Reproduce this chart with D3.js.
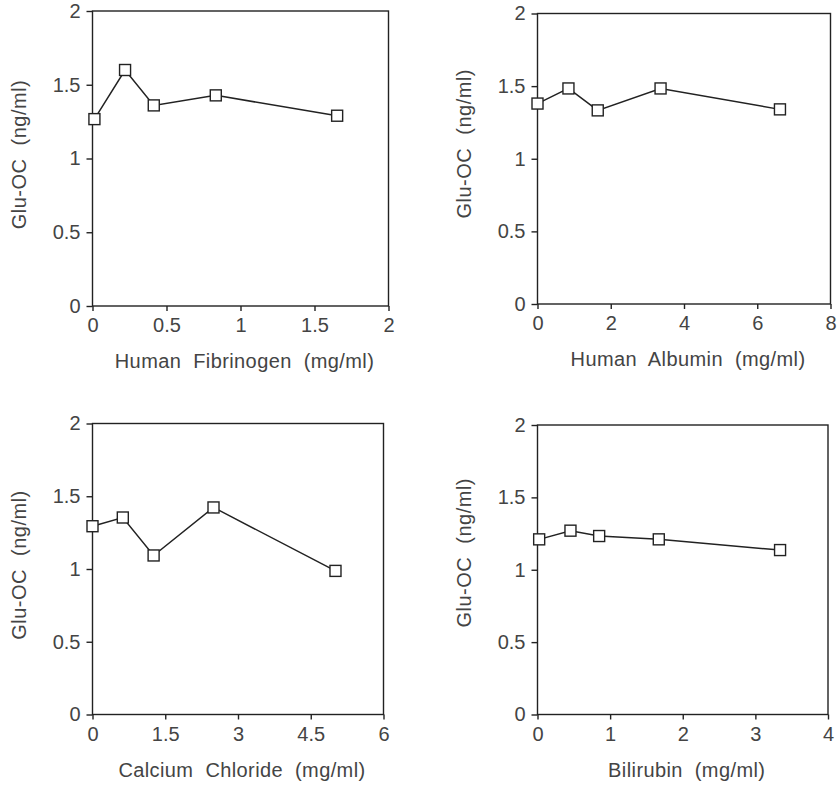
<!DOCTYPE html>
<html><head><meta charset="utf-8">
<script src="https://cdn.jsdelivr.net/npm/d3@7"></script>
<style>
body{margin:0;background:#fff;}
text{font-family:"Liberation Sans",Arial,sans-serif;fill:#444;}
</style></head>
<body><svg id="c" width="837" height="786"></svg>
<script>
const yTickLabels = ["0","0.5","1","1.5","2"];
const yTicks = [0,0.5,1,1.5,2];
const yTitle = "Glu-OC (ng/ml)";

const fibrinogenX = [0.013,0.22,0.414,0.833,1.653];
const fibrinogenY = [1.267,1.60,1.36,1.428,1.29];
const fibrinogenTicks = [0,0.5,1,1.5,2];
const fibrinogenTickLabels = ["0","0.5","1","1.5","2"];

const albuminX = [0,0.845,1.645,3.36,6.62];
const albuminY = [1.38,1.484,1.333,1.484,1.34];
const albuminTicks = [0,2,4,6,8];
const albuminTickLabels = ["0","2","4","6","8"];

const calciumX = [0,0.625,1.26,2.495,5.01];
const calciumY = [1.294,1.354,1.093,1.423,0.987];
const calciumTicks = [0,1.5,3,4.5,6];
const calciumTickLabels = ["0","1.5","3","4.5","6"];

const bilirubinX = [0.023,0.454,0.849,1.67,3.34];
const bilirubinY = [1.21,1.27,1.233,1.21,1.136];
const bilirubinTicks = [0,1,2,3,4];
const bilirubinTickLabels = ["0","1","2","3","4"];

const panels = [
  {xs:fibrinogenX, ys:fibrinogenY, ticks:fibrinogenTicks, labels:fibrinogenTickLabels, title:"Human Fibrinogen (mg/ml)", box:[92.5,11,388.5,306], yShift:-4},
  {xs:albuminX, ys:albuminY, ticks:albuminTicks, labels:albuminTickLabels, title:"Human Albumin (mg/ml)", box:[537.5,13.5,830.5,304], yShift:-15},
  {xs:calciumX, ys:calciumY, ticks:calciumTicks, labels:calciumTickLabels, title:"Calcium Chloride (mg/ml)", box:[92.5,423.5,383.5,714.5], yShift:-4},
  {xs:bilirubinX, ys:bilirubinY, ticks:bilirubinTicks, labels:bilirubinTickLabels, title:"Bilirubin (mg/ml)", box:[537.5,425,828,714.5], yShift:-17}
];

const svg = d3.select("#c");
const lineColor = "#222";
const FONT = "Liberation Sans, Arial, sans-serif";

panels.forEach(p=>{
  const [x0,y0,x1,y1] = p.box;
  const x = d3.scaleLinear().domain([p.ticks[0], p.ticks[p.ticks.length-1]]).range([x0,x1]);
  const y = d3.scaleLinear().domain([0,2]).range([y1,y0]);
  const g = svg.append("g");

  g.append("rect").attr("x",x0).attr("y",y0).attr("width",x1-x0).attr("height",y1-y0)
    .attr("fill","none").attr("stroke",lineColor).attr("stroke-width",1.4);

  const xa = g.append("g").attr("transform",`translate(0,${y1})`)
    .call(d3.axisBottom(x).tickValues(p.ticks).tickFormat((d,i)=>p.labels[i]).tickSize(5).tickPadding(7));
  xa.select(".domain").remove();
  xa.selectAll("line").attr("stroke",lineColor).attr("stroke-width",1.4);
  xa.selectAll("text").attr("font-size",20).attr("fill","#444").attr("font-family",FONT);

  const ya = g.append("g").attr("transform",`translate(${x0},0)`)
    .call(d3.axisLeft(y).tickValues(yTicks).tickFormat((d,i)=>yTickLabels[i]).tickSize(6).tickPadding(6));
  ya.select(".domain").remove();
  ya.selectAll("line").attr("stroke",lineColor).attr("stroke-width",1.4);
  ya.selectAll("text").attr("font-size",20).attr("fill","#444").attr("font-family",FONT);

  g.append("text").attr("x",(x0+x1)/2+4).attr("y",y1+62).attr("text-anchor","middle")
    .attr("font-size",20).attr("letter-spacing",0.4).attr("word-spacing",6).text(p.title);
  g.append("text").attr("transform",`translate(${x0-67},${(y0+y1)/2+p.yShift}) rotate(-90)`)
    .attr("text-anchor","middle").attr("font-size",20).attr("letter-spacing",0.5).attr("word-spacing",7).text(yTitle);

  const data = p.xs.map((v,i)=>[v,p.ys[i]]);
  g.append("path").datum(data).attr("fill","none").attr("stroke",lineColor).attr("stroke-width",1.5)
    .attr("d",d3.line().x(d=>x(d[0])).y(d=>y(d[1])));
  g.selectAll("rect.m").data(data).join("rect").attr("class","m")
    .attr("x",d=>x(d[0])-5.5).attr("y",d=>y(d[1])-5.5).attr("width",11).attr("height",11)
    .attr("fill","#fff").attr("stroke",lineColor).attr("stroke-width",1.4);
});
</script></body></html>
